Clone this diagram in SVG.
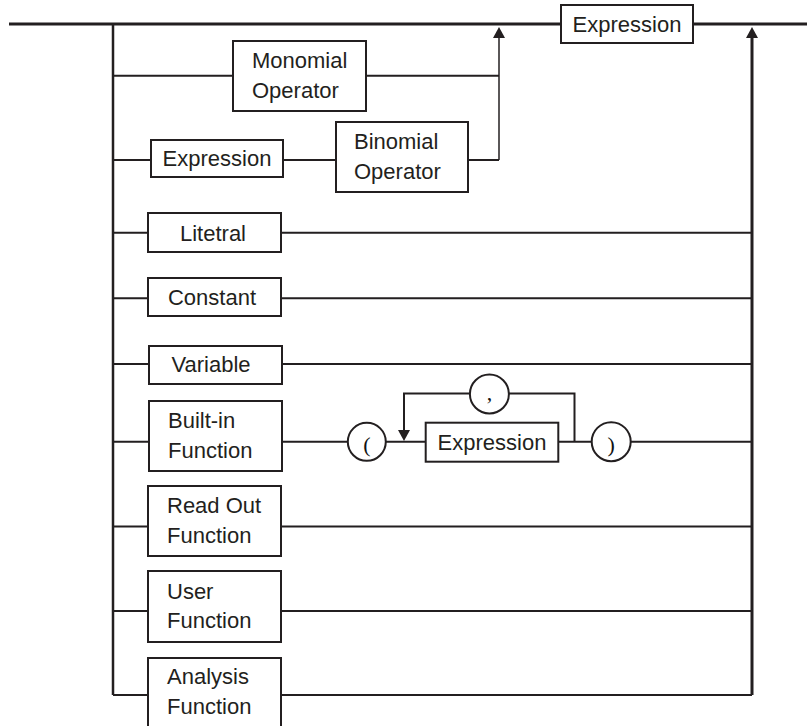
<svg xmlns="http://www.w3.org/2000/svg" width="808" height="726" viewBox="0 0 808 726">
<style>
.box{fill:#fff;stroke:#231f20;stroke-width:2}
.circ{fill:#fff;stroke:#231f20;stroke-width:2}
.lbl{font-family:"Liberation Sans",Arial,sans-serif;font-size:22px;fill:#231f20}
.c{text-anchor:middle}
.sym{font-family:"Liberation Serif","Times New Roman",serif;font-size:22px;fill:#111;text-anchor:middle}
.w{fill:none;stroke:#231f20;stroke-width:2}
.main{stroke-width:3}
.thin{stroke-width:1.5}
</style>
<defs>
<marker id="ah" viewBox="0 0 11 12" refX="1" refY="6" markerWidth="11" markerHeight="12" markerUnits="userSpaceOnUse" orient="auto">
<path d="M0,0 L11,6 L0,12 z" fill="#231f20"/>
</marker>
</defs>
<rect width="808" height="726" fill="#fff"/>
<g id="connectors">
<path class="w main" d="M9,24 H561 M693,24 H807"/>
<path class="w" style="stroke-width:2.5" d="M113,24 V695"/>
<path class="w main" d="M752,695 V37" marker-end="url(#ah)"/>
<path class="w" d="M113,75.7 H233 M366,75.7 H499"/>
<path class="w" d="M113,160 H151 M283,160 H336 M468,160 H499"/>
<path class="w thin" d="M499,160 V37" marker-end="url(#ah)"/>
<path class="w" d="M113,232.7 H148 M281,232.7 H752"/>
<path class="w" d="M113,298.3 H148 M281,298.3 H752"/>
<path class="w" d="M113,364 H149 M282,364 H752"/>
<path class="w" d="M113,441.7 H149 M282,441.7 H347.8 M385.8,441.7 H425.7 M558.3,441.7 H591.7 M630.7,441.7 H752"/>
<path class="w" d="M574.5,441.7 V393.4 H509"/>
<path class="w" d="M470,393.4 H404 V431" marker-end="url(#ah)"/>
<path class="w" d="M113,526.5 H148 M281,526.5 H752"/>
<path class="w" d="M113,611 H148 M281,611 H752"/>
<path class="w" d="M113,695 H148 M281,695 H752"/>
</g>
<g id="expression-top">
<rect class="box" x="561" y="5" width="132" height="38"/>
<text class="lbl c" x="627" y="31.7">Expression</text>
</g>
<g id="monomial-operator">
<rect class="box" x="233" y="41" width="133" height="70"/>
<text class="lbl" x="252" y="68">Monomial</text>
<text class="lbl" x="252" y="98">Operator</text>
</g>
<g id="expression-left">
<rect class="box" x="151" y="140" width="132" height="37"/>
<text class="lbl c" x="217" y="166">Expression</text>
</g>
<g id="binomial-operator">
<rect class="box" x="336" y="122" width="132" height="70"/>
<text class="lbl" x="354" y="149">Binomial</text>
<text class="lbl" x="354" y="179">Operator</text>
</g>
<g id="litetral">
<rect class="box" x="148" y="213" width="133" height="39"/>
<text class="lbl c" x="213" y="240.5">Litetral</text>
</g>
<g id="constant">
<rect class="box" x="148" y="278" width="133" height="38"/>
<text class="lbl c" x="212" y="305">Constant</text>
</g>
<g id="variable">
<rect class="box" x="149" y="346" width="133" height="38"/>
<text class="lbl c" x="211" y="372">Variable</text>
</g>
<g id="built-in-function">
<rect class="box" x="149" y="401" width="133" height="70"/>
<text class="lbl" x="168" y="428">Built-in</text>
<text class="lbl" x="168" y="458">Function</text>
</g>
<g id="open-paren">
<circle class="circ" cx="366.8" cy="441.8" r="19"/>
<text class="sym" x="366.8" y="452">(</text>
</g>
<g id="comma">
<circle class="circ" cx="489.4" cy="394" r="19.5"/>
<text class="sym" x="489.4" y="400">,</text>
</g>
<g id="expression-inner">
<rect class="box" x="425.7" y="422.7" width="132.6" height="39"/>
<text class="lbl c" x="492" y="449.5">Expression</text>
</g>
<g id="close-paren">
<circle class="circ" cx="611.2" cy="441.7" r="19.5"/>
<text class="sym" x="611.2" y="452">)</text>
</g>
<g id="read-out-function">
<rect class="box" x="148" y="486" width="133" height="70"/>
<text class="lbl" x="167" y="513">Read Out</text>
<text class="lbl" x="167" y="543">Function</text>
</g>
<g id="user-function">
<rect class="box" x="148" y="571" width="133" height="71"/>
<text class="lbl" x="167" y="598.5">User</text>
<text class="lbl" x="167" y="628">Function</text>
</g>
<g id="analysis-function">
<rect class="box" x="148" y="658" width="133" height="71"/>
<text class="lbl" x="167" y="684">Analysis</text>
<text class="lbl" x="167" y="714">Function</text>
</g>
</svg>
